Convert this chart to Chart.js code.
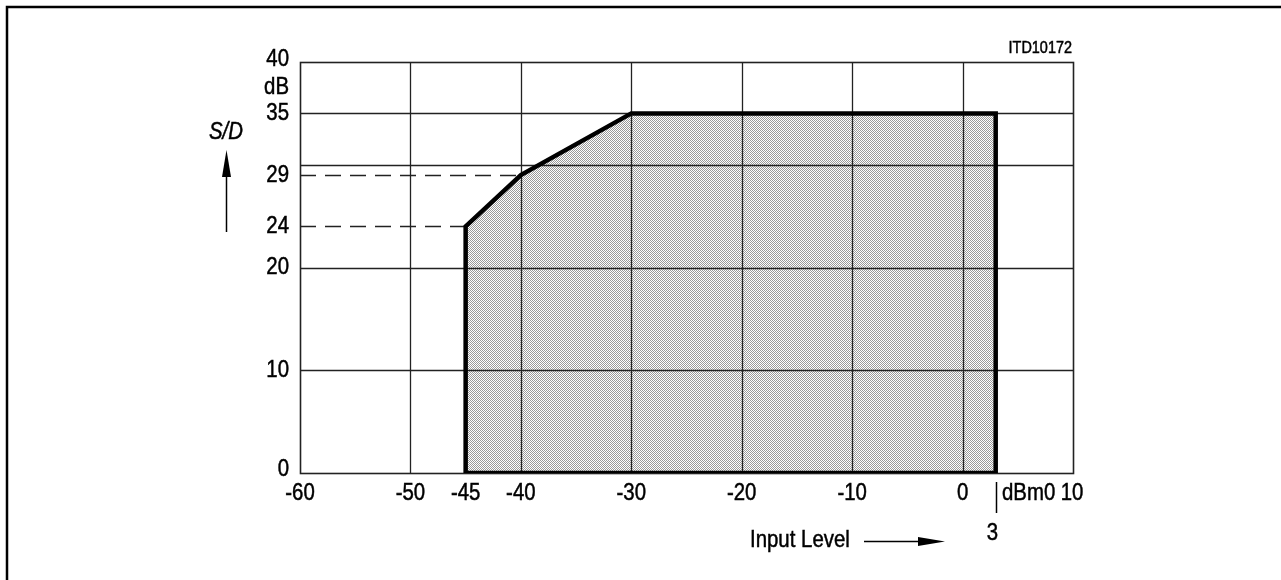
<!DOCTYPE html>
<html>
<head>
<meta charset="utf-8">
<script src="https://cdn.jsdelivr.net/npm/chart.js@4/dist/chart.umd.min.js"></script>
<style>
  body { margin: 0; background: #fff; }
  #wrap { width: 1281px; height: 580px; }
</style>
</head>
<body>
<div id="wrap"><canvas id="sd" width="1281" height="580"></canvas></div>
<script>
// S/D area outline (input level dBm0, S/D dB)
const areaX = [-45, -45, -40, -30, 3, 3, -45];
const areaY = [0, 24, 29, 35, 35, 0, 0];

const gridX = [-50, -40, -30, -20, -10, 0];
const gridY = [10, 20, 30, 35];
const xTickLabels = [-60, -50, -45, -40, -30, -20, -10, 0];
const yTickLabels = [0, 10, 20, 24, 29, 35, 40];
// dashed guides: [toX, atY]
const guideX = [-40, -45];
const guideY = [29, 24];

const FONT = '"Liberation Sans", Arial, sans-serif';
const SQUEEZE = 0.85;

function xyzip(xs, ys) {
    return xs.map((v, i) => ({x: v, y: ys[i]}));
}

function stipple() {
    let c = document.createElement('canvas');
    c.width = 2; c.height = 2;
    let g = c.getContext('2d');
    g.fillStyle = '#ffffff';
    g.fillRect(0, 0, 2, 2);
    g.fillStyle = '#9a9a9a';
    g.fillRect(0, 0, 1, 1);
    g.fillRect(1, 1, 1, 1);
    return g.createPattern(c, 'repeat');
}

// helvetica narrow look: squeeze the text horizontally
function narrowText(ctx, txt, x, y, align) {
    ctx.save();
    ctx.translate(x, y);
    ctx.scale(SQUEEZE, 1);
    ctx.textAlign = align;
    ctx.lineWidth = 0.5;
    ctx.fillText(txt, 0, 0);
    ctx.strokeText(txt, 0, 0);
    ctx.restore();
}

const outline = xyzip(areaX, areaY);
const topEdge = outline.slice(1, 5);

const gridPlugin = {
    id: 'gridUnder',
    afterDatasetDraw(chart, args) {
        if (args.index !== 1) return;
        const ctx = chart.ctx, xs = chart.scales.x, ys = chart.scales.y, a = chart.chartArea;
        ctx.save();
        ctx.strokeStyle = '#222';
        ctx.lineWidth = 1.3;
        gridX.forEach(v => {
            let px = Math.round(xs.getPixelForValue(v)) + 0.5;
            ctx.beginPath(); ctx.moveTo(px, a.top); ctx.lineTo(px, a.bottom); ctx.stroke();
        });
        gridY.forEach(v => {
            let py = Math.round(ys.getPixelForValue(v)) + 0.5;
            ctx.beginPath(); ctx.moveTo(a.left, py); ctx.lineTo(a.right, py); ctx.stroke();
        });
        ctx.lineWidth = 1.6;
        ctx.strokeRect(a.left + 0.5, a.top + 0.5, a.right - a.left, a.bottom - a.top);
        // dashed guides
        ctx.setLineDash([16, 9]);
        ctx.lineWidth = 1.3;
        guideX.forEach((gx, i) => {
            let py = Math.round(ys.getPixelForValue(guideY[i])) + 0.5;
            ctx.beginPath(); ctx.moveTo(a.left, py); ctx.lineTo(xs.getPixelForValue(gx), py); ctx.stroke();
        });
        ctx.restore();
    }
};

const textPlugin = {
    id: 'texts',
    afterDraw(chart) {
        const ctx = chart.ctx, xs = chart.scales.x, ys = chart.scales.y, a = chart.chartArea;
        ctx.save();
        ctx.fillStyle = '#000';
        ctx.strokeStyle = '#000';
        // frame
        ctx.lineWidth = 2.5;
        ctx.beginPath(); ctx.moveTo(7, 580); ctx.lineTo(7, 7); ctx.lineTo(1281, 7); ctx.stroke();

        ctx.font = '24px ' + FONT;
        ctx.textBaseline = 'middle';
        yTickLabels.forEach(v => {
            let py = ys.getPixelForValue(v);
            if (v === 0) py -= 4;
            if (v === 40) py -= 3;
            narrowText(ctx, String(v), 289, py, 'right');
        });
        narrowText(ctx, 'dB', 289, 87, 'right');

        ctx.textBaseline = 'top';
        xTickLabels.forEach(v => {
            narrowText(ctx, String(v), xs.getPixelForValue(v), a.bottom + 8, 'center');
        });
        narrowText(ctx, 'dBm0', 1002, a.bottom + 8, 'left');
        narrowText(ctx, '10', xs.getPixelForValue(10) - 1, a.bottom + 8, 'center');

        // marker for 3 dBm0
        let p3 = Math.round(xs.getPixelForValue(3)) + 0.5;
        ctx.lineWidth = 1.5;
        ctx.beginPath(); ctx.moveTo(p3, a.bottom + 9); ctx.lineTo(p3, a.bottom + 40); ctx.stroke();
        narrowText(ctx, '3', p3 - 4, a.bottom + 48, 'center');

        // x axis title with arrow
        ctx.textBaseline = 'middle';
        narrowText(ctx, 'Input Level', 750, 540, 'left');
        ctx.lineWidth = 1.5;
        ctx.beginPath(); ctx.moveTo(864, 541.5); ctx.lineTo(920, 541.5); ctx.stroke();
        ctx.beginPath(); ctx.moveTo(918, 537); ctx.lineTo(945, 541.5); ctx.lineTo(918, 546); ctx.closePath(); ctx.fill();

        // y axis title with arrow
        ctx.font = 'italic 24px ' + FONT;
        narrowText(ctx, 'S/D', 226, 132, 'center');
        ctx.lineWidth = 1.5;
        ctx.beginPath(); ctx.moveTo(226.5, 232); ctx.lineTo(226.5, 170); ctx.stroke();
        ctx.beginPath(); ctx.moveTo(222, 177); ctx.lineTo(226.5, 150); ctx.lineTo(231, 177); ctx.closePath(); ctx.fill();

        ctx.font = '17px ' + FONT;
        narrowText(ctx, 'ITD10172', 1072, 48, 'right');
        ctx.restore();
    }
};

new Chart(document.getElementById('sd'), {
    type: 'scatter',
    data: {
        datasets: [{
            label: 'outline',
            data: outline,
            showLine: true,
            fill: false,
            borderColor: '#000',
            borderWidth: 4.5,
            pointRadius: 0,
            borderJoinStyle: 'miter',
            order: 0
        },
        {
            label: 'area',
            data: topEdge,
            showLine: true,
            fill: 'origin',
            backgroundColor: stipple(),
            borderWidth: 0,
            pointRadius: 0,
            order: 1
        }]
    },
    plugins: [gridPlugin, textPlugin],
    options: {
        responsive: false,
        animation: false,
        devicePixelRatio: 1,
        layout: {padding: {left: 300, right: 208, top: 62, bottom: 107}},
        plugins: {legend: {display: false}, tooltip: {enabled: false}},
        scales: {
            x: {type: 'linear', min: -60, max: 10, display: false},
            y: {type: 'linear', min: 0, max: 40, display: false}
        }
    }
});
</script>
</body>
</html>
